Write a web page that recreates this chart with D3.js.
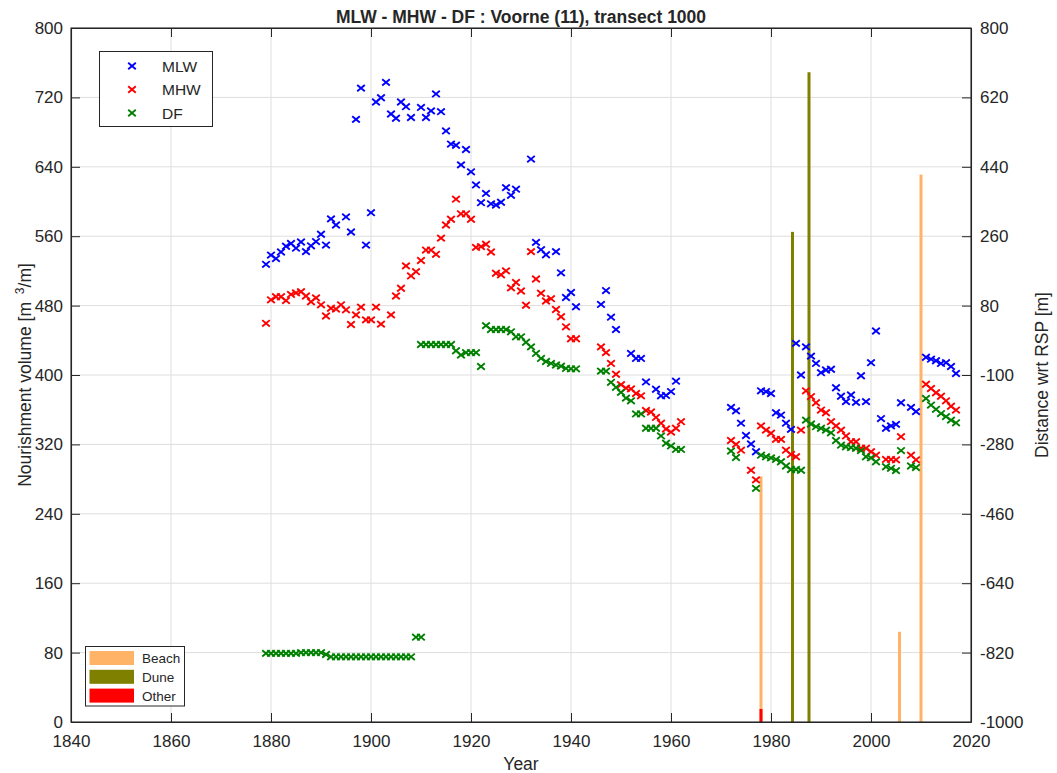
<!DOCTYPE html>
<html>
<head>
<meta charset="utf-8">
<script src="https://cdn.jsdelivr.net/npm/d3@7"></script>
<style>
  body { margin: 0; background: #fff; }
  svg { display: block; }
  text { font-family: "Liberation Sans", Arial, Helvetica, sans-serif; fill: #262626; }
</style>
</head>
<body>
<svg id="chart" width="1057" height="773"></svg>
<script>
// ---- axis ticks ----
const xTicks = [1840, 1860, 1880, 1900, 1920, 1940, 1960, 1980, 2000, 2020];
const leftTicks = [0, 80, 160, 240, 320, 400, 480, 560, 640, 720, 800];
const rightTicks = [-1000, -820, -640, -460, -280, -100, 80, 260, 440, 620, 800];

// ---- coastline positions, distance wrt RSP [m] ----
const mlwYears = [1879,1880,1881,1882,1883,1884,1885,1886,1887,1888,1889,1890,1891,1892,1893,
  1895,1896,1897,1898,1899,1900,1901,1902,1903,1904,1905,1906,1907,1908,
  1910,1911,1912,1913,1914,1915,1916,1917,1918,1919,1920,1921,1922,1923,1924,1925,1926,1927,1928,1929,
  1932,1933,1934,1935,1937,1938,1939,1940,1941,1946,1947,1948,1949,1952,1953,1954,1955,
  1957,1958,1959,1960,1961,
  1972,1973,1974,1975,1976,1977,1978,1979,1980,1981,1982,1983,1984,1985,1986,1987,1988,1989,1990,
  1991,1992,1993,1994,1995,1996,1997,1998,1999,2000,2001,2002,2003,2004,2005,2006,
  2008,2009,2011,2012,2013,2014,2015,2016,2017];
const mlwValues = [187,211,202,219,234,241,229,245,220,235,246,265,237,305,289,
  310,271,563,644,237,321,608,619,659,577,566,608,596,568,
  594,568,585,629,583,533,499,496,445,485,427,393,347,371,344,341,348,386,366,382,
  460,244,225,212,220,165,101,114,77,83,119,50,18,-44,-57,-57,-118,
  -137,-154,-153,-143,-116,
  -184,-193,-225,-257,-279,-299,-141,-143,-148,-198,-204,-225,-241,-18,-100,-27,-51,-70,-94,
  -87,-85,-133,-155,-169,-152,-171,-102,-169,-68,14,-213,-238,-232,-228,-172,
  -184,-195,-54,-59,-63,-70,-68,-78,-96];

const mhwYears = [1879,1880,1881,1882,1883,1884,1885,1886,1887,1888,1889,1890,1891,1892,1893,1894,
  1895,1896,1897,1898,1899,1900,1901,1902,
  1904,1905,1906,1907,1908,1909,1910,1911,1912,1913,1914,1915,1916,1917,1918,1919,1920,1921,1922,
  1923,1924,1925,1926,1927,1928,1929,1930,1931,1932,1933,1934,1935,1936,1937,1938,1939,1940,1941,
  1946,1947,1948,1949,1950,1951,1952,1953,1954,1955,1956,1957,1958,1959,1960,1961,1962,
  1972,1973,1974,
  1976,1977,1978,1979,1980,1981,1982,1983,1984,1985,1986,1987,1988,1989,1990,1991,1992,1993,1994,
  1995,1996,1997,1998,1999,2000,2001,
  2003,2004,2005,2006,2008,2009,2011,2012,2013,2014,2015,2016,2017];
const mhwValues = [34,95,103,103,93,109,113,116,105,90,100,82,53,73,71,82,
  69,31,56,76,43,43,76,32,
  56,105,125,183,157,168,197,224,224,213,255,289,304,356,318,318,304,231,233,
  239,219,164,160,170,126,140,118,81,220,149,112,92,98,70,51,25,-6,-6,
  -27,-42,-70,-98,-125,-134,-136,-148,-154,-192,-196,-210,-225,-240,-248,-238,-221,
  -270,-280,-295,
  -347,-372,-232,-243,-251,-267,-267,-295,-306,-312,-243,-141,-156,-172,-191,-198,-221,-232,-243,
  -258,-273,-273,-290,-290,-299,-308,
  -319,-319,-320,-260,-308,-320,-124,-135,-146,-155,-167,-181,-191];

const dfYears = [1879,1880,1881,1882,1883,1884,1885,1886,1887,1888,1889,1890,1891,1892,1893,1894,
  1895,1896,1897,1898,1899,1900,1901,1902,1903,1904,1905,1906,1907,1908,1909,1910,
  1910,1911,1912,1913,1914,1915,1916,1917,1918,1919,1920,1921,1922,1923,1924,1925,1926,1927,1928,
  1929,1930,1931,1932,1933,1934,1935,1936,1937,1938,1939,1940,1941,
  1946,1947,1948,1949,1950,1951,1952,1953,1954,1955,1956,1957,1958,1959,1960,1961,1962,
  1972,1973,
  1977,1978,1979,1980,1981,1982,1983,1984,1985,1986,1987,1988,1989,1990,1991,1992,1993,1994,1995,
  1996,1997,1998,1999,2000,2001,
  2003,2004,2005,2006,2008,2009,2011,2012,2013,2014,2015,2016,2017];
const dfValues = [-822,-822,-822,-822,-822,-822,-822,-820,-820,-820,-820,-820,-825,-831,-831,-831,
  -831,-831,-831,-831,-831,-831,-831,-831,-831,-831,-831,-831,-831,-831,-780,-780,
  -21,-21,-21,-21,-21,-21,-21,-37,-48,-42,-42,-42,-78,28,18,18,18,18,12,
  -1,-1,-15,-27,-44,-57,-65,-70,-74,-77,-83,-84,-84,
  -90,-90,-119,-132,-145,-160,-167,-201,-201,-238,-238,-238,-258,-277,-284,-293,-293,
  -297,-314,
  -394,-308,-312,-315,-319,-325,-336,-345,-345,-347,-217,-227,-234,-238,-243,-250,-270,-282,-286,
  -288,-290,-296,-312,-315,-325,
  -338,-342,-348,-296,-336,-340,-161,-178,-189,-200,-208,-217,-224];

// ---- nourishment volumes [m3/m] ----
const beachYears = [1978, 2005.7, 2010];
const beachVolumes = [283, 104, 631];
const duneYears = [1984.3, 1987.6];
const duneVolumes = [565, 749];
const otherYears = [1978];
const otherVolumes = [15];

// ---- layout ----
const plot = { left: 71, right: 971, top: 28, bottom: 722 };
const svg = d3.select("#chart");
const ink = "#262626";

const x = d3.scaleLinear().domain([1840, 2020]).range([plot.left, plot.right]);
const yL = d3.scaleLinear().domain([0, 800]).range([plot.bottom, plot.top]);
const yR = d3.scaleLinear().domain([-1000, 800]).range([plot.bottom, plot.top]);

// grid
const grid = svg.append("g").attr("stroke", "#dedede").attr("stroke-width", 1);
grid.selectAll("line.gx").data(xTicks.slice(1, -1)).join("line")
  .attr("x1", d => x(d)).attr("x2", d => x(d))
  .attr("y1", plot.top).attr("y2", plot.bottom);
grid.selectAll("line.gy").data(leftTicks.slice(1, -1)).join("line")
  .attr("x1", plot.left).attr("x2", plot.right)
  .attr("y1", d => yL(d)).attr("y2", d => yL(d));

// nourishment bars
const barW = 0.6;
const bars = [
  { years: beachYears, vols: beachVolumes, color: "#ffb366" },
  { years: duneYears, vols: duneVolumes, color: "#808000" },
  { years: otherYears, vols: otherVolumes, color: "#ff0000" }
];
bars.forEach(b => {
  svg.append("g").selectAll("rect").data(d3.zip(b.years, b.vols)).join("rect")
    .attr("x", d => x(d[0] - barW / 2))
    .attr("width", d => x(d[0] + barW / 2) - x(d[0] - barW / 2))
    .attr("y", d => yL(d[1]))
    .attr("height", d => yL(0) - yL(d[1]))
    .attr("fill", b.color);
});

// cross markers
const crossPath = "M-3.8,-3.2L3.8,3.2M-3.8,3.2L3.8,-3.2";
const series = [
  { name: "MLW", years: mlwYears, vals: mlwValues, color: "#0000ff" },
  { name: "MHW", years: mhwYears, vals: mhwValues, color: "#ff0000" },
  { name: "DF", years: dfYears, vals: dfValues, color: "#008000" }
];
series.forEach(s => {
  svg.append("g").selectAll("path").data(d3.zip(s.years, s.vals)).join("path")
    .attr("d", crossPath)
    .attr("transform", d => `translate(${x(d[0])},${yR(d[1])})`)
    .attr("fill", "none").attr("stroke", s.color).attr("stroke-width", 1.9);
});

// axes (ticks point inward)
const fmt = d => String(d);
const gx = svg.append("g").attr("transform", `translate(0,${plot.bottom})`)
  .call(d3.axisBottom(x).tickValues(xTicks).tickSize(-9).tickSizeOuter(0).tickPadding(13).tickFormat(fmt));
const gxt = svg.append("g").attr("transform", `translate(0,${plot.top})`)
  .call(d3.axisTop(x).tickValues(xTicks).tickSize(-9).tickSizeOuter(0).tickFormat(""));
const gl = svg.append("g").attr("transform", `translate(${plot.left},0)`)
  .call(d3.axisLeft(yL).tickValues(leftTicks).tickSize(-9).tickSizeOuter(0).tickPadding(8).tickFormat(fmt));
const gr = svg.append("g").attr("transform", `translate(${plot.right},0)`)
  .call(d3.axisRight(yR).tickValues(rightTicks).tickSize(-9).tickSizeOuter(0).tickPadding(9).tickFormat(fmt));
[gx, gxt, gl, gr].forEach(g => {
  g.selectAll("path.domain").attr("stroke", ink).attr("stroke-width", 1.1);
  g.selectAll(".tick line").attr("stroke", ink).attr("stroke-width", 1);
  g.selectAll(".tick text").attr("fill", ink).style("font-size", "17px")
    .style("font-family", '"Liberation Sans", Arial, Helvetica, sans-serif');
});

// titles
svg.append("text").attr("x", (plot.left + plot.right) / 2).attr("y", 23)
  .attr("text-anchor", "middle").style("font-size", "17.5px").style("font-weight", "bold")
  .text("MLW - MHW - DF : Voorne (11), transect 1000");
svg.append("text").attr("x", (plot.left + plot.right) / 2).attr("y", 770)
  .attr("text-anchor", "middle").style("font-size", "17.5px").text("Year");
const yl = svg.append("text")
  .attr("transform", `translate(31,${(plot.top + plot.bottom) / 2}) rotate(-90)`)
  .attr("text-anchor", "middle").style("font-size", "17.5px");
yl.append("tspan").text("Nourishment volume [m ");
yl.append("tspan").attr("dx", 3).attr("dy", -7).style("font-size", "12px").text("3");
yl.append("tspan").attr("dy", 7).text("/m]");
svg.append("text")
  .attr("transform", `translate(1048,${(plot.top + plot.bottom) / 2}) rotate(-90)`)
  .attr("text-anchor", "middle").style("font-size", "17.5px").text("Distance wrt RSP [m]");

// marker legend
const lg1 = svg.append("g");
lg1.append("rect").attr("x", 99.5).attr("y", 51.5).attr("width", 113).attr("height", 75)
  .attr("fill", "#fff").attr("stroke", ink).attr("stroke-width", 1);
series.forEach((s, i) => {
  const cy = 66 + i * 23.5;
  lg1.append("path").attr("d", crossPath).attr("transform", `translate(132,${cy})`)
    .attr("fill", "none").attr("stroke", s.color).attr("stroke-width", 1.9);
  lg1.append("text").attr("x", 162).attr("y", cy + 5.5).style("font-size", "15.5px").text(s.name);
});

// nourishment legend
const lg2 = svg.append("g");
lg2.append("rect").attr("x", 85.5).attr("y", 646.5).attr("width", 99).attr("height", 59.5)
  .attr("fill", "#fff").attr("stroke", ink).attr("stroke-width", 1);
[["Beach", "#ffb366"], ["Dune", "#808000"], ["Other", "#ff0000"]].forEach((e, i) => {
  const top = 651 + i * 18.8;
  lg2.append("rect").attr("x", 89.5).attr("y", top).attr("width", 44.5).attr("height", 14)
    .attr("fill", e[1]);
  lg2.append("text").attr("x", 142).attr("y", top + 12).style("font-size", "13.5px").text(e[0]);
});

// plot frame on top
svg.append("rect").attr("x", plot.left).attr("y", plot.top)
  .attr("width", plot.right - plot.left).attr("height", plot.bottom - plot.top)
  .attr("fill", "none").attr("stroke", ink).attr("stroke-width", 1.1);
</script>
</body>
</html>
